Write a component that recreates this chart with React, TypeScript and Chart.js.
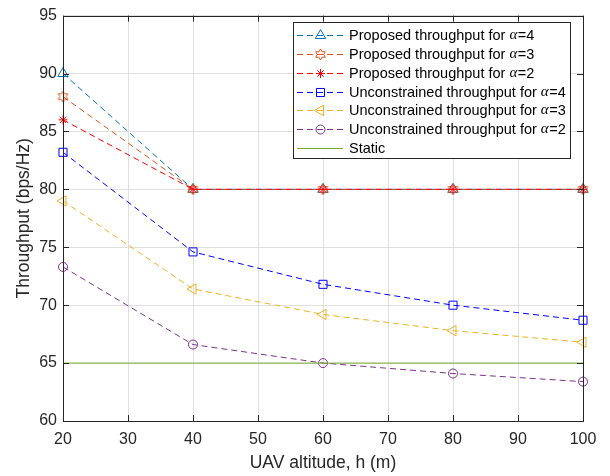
import React, { useEffect, useRef } from "react";
import { Chart, registerables } from "chart.js";
import { drawPoint } from "chart.js/helpers";

Chart.register(...registerables);

// ---- data ----
const altitudes = [20, 40, 60, 80, 100];
const proposedA4 = [90, 80, 80, 80, 80];
const proposedA3 = [88, 80, 80, 80, 80];
const proposedA2 = [86, 80, 80, 80, 80];
const unconA4 = [83.2, 74.6, 71.8, 70.0, 68.7];
const unconA3 = [79.0, 71.4, 69.2, 67.8, 66.8];
const unconA2 = [73.3, 66.6, 65.0, 64.1, 63.4];
const staticTp = [65, 65, 65, 65, 65];
const xTickValues = [20, 30, 40, 50, 60, 70, 80, 90, 100];
const yTickValues = [60, 65, 70, 75, 80, 85, 90, 95];
const legendPrefixes = [
  "Proposed throughput for ",
  "Proposed throughput for ",
  "Proposed throughput for ",
  "Unconstrained throughput for ",
  "Unconstrained throughput for ",
  "Unconstrained throughput for ",
  "Static",
];
const legendAlphas = ["4", "3", "2", "4", "3", "2", ""];

const AX = "#262626";
const FAM = '"Liberation Sans", Arial, sans-serif';

function makeHexagram(color: string, r: number): HTMLCanvasElement {
  const s = Math.ceil(r * 2 + 4);
  const c = document.createElement("canvas");
  c.width = s;
  c.height = s;
  const g = c.getContext("2d")!;
  g.strokeStyle = color;
  g.lineWidth = 1;
  const cx = s / 2;
  const cy = s / 2;
  g.beginPath();
  for (let i = 0; i < 12; i++) {
    const ang = -Math.PI / 2 + (i * Math.PI) / 6;
    const rr = i % 2 === 0 ? r : r * 0.577;
    const px = cx + Math.cos(ang) * rr;
    const py = cy + Math.sin(ang) * rr;
    if (i === 0) g.moveTo(px, py);
    else g.lineTo(px, py);
  }
  g.closePath();
  g.stroke();
  return c;
}

const boxTicksPlugin = {
  id: "boxTicks",
  afterDatasetsDraw(chart: any) {
    const { ctx, chartArea } = chart;
    const { left, right, top, bottom } = chartArea;
    const xs = chart.scales.x;
    const ys = chart.scales.y;
    const L = 6;
    ctx.save();
    ctx.strokeStyle = AX;
    ctx.lineWidth = 1;
    ctx.beginPath();
    for (const v of xTickValues) {
      const px = Math.round(xs.getPixelForValue(v)) + 0.5;
      ctx.moveTo(px, bottom);
      ctx.lineTo(px, bottom - L);
      ctx.moveTo(px, top);
      ctx.lineTo(px, top + L);
    }
    for (const v of yTickValues) {
      const py = Math.round(ys.getPixelForValue(v)) + 0.5;
      ctx.moveTo(left, py);
      ctx.lineTo(left + L, py);
      ctx.moveTo(right, py);
      ctx.lineTo(right - L, py);
    }
    ctx.stroke();
    ctx.strokeRect(Math.round(left) + 0.5, Math.round(top) + 0.5, Math.round(right - left), Math.round(bottom - top));
    ctx.restore();
  },
};

const legendPlugin = {
  id: "customLegend",
  afterDraw(chart: any) {
    const { ctx } = chart;
    const bx = 293.5, by = 22.5, bw = 277, bh = 136;
    ctx.save();
    ctx.fillStyle = "#ffffff";
    ctx.fillRect(bx, by, bw, bh);
    ctx.strokeStyle = AX;
    ctx.lineWidth = 1;
    ctx.strokeRect(bx, by, bw, bh);
    const y0 = 35;
    const dy = 18.85;
    chart.data.datasets.forEach((ds: any, i: number) => {
      const y = Math.round(y0 + dy * i) + 0.5;
      ctx.save();
      ctx.strokeStyle = ds.borderColor;
      ctx.lineWidth = 1;
      ctx.setLineDash(ds.borderDash || []);
      ctx.beginPath();
      ctx.moveTo(297, y);
      ctx.lineTo(343, y);
      ctx.stroke();
      ctx.restore();
      if (ds.pointStyle && ds.pointRadius > 0) {
        if (ds.pointStyle instanceof HTMLCanvasElement) {
          const im = ds.pointStyle;
          ctx.drawImage(im, 320.5 - im.width / 2, y - im.height / 2);
        } else {
          ctx.save();
          ctx.setLineDash([]);
          ctx.strokeStyle = ds.pointBorderColor || ds.borderColor;
          ctx.fillStyle = "rgba(0,0,0,0)";
          ctx.lineWidth = 1;
          drawPoint(ctx, { pointStyle: ds.pointStyle, radius: ds.pointRadius, rotation: ds.pointRotation || 0, borderWidth: 1 }, 320.5, y);
          ctx.restore();
        }
      }
      ctx.fillStyle = "#000000";
      ctx.textBaseline = "middle";
      ctx.textAlign = "left";
      ctx.font = "14.5px " + FAM;
      let tx = 349;
      const pre = legendPrefixes[i];
      ctx.fillText(pre, tx, y);
      tx += ctx.measureText(pre).width;
      if (legendAlphas[i]) {
        ctx.font = 'italic 15px "Liberation Serif", serif';
        ctx.fillText("\u03B1", tx, y);
        tx += ctx.measureText("\u03B1").width + 0.5;
        ctx.font = "14.5px " + FAM;
        ctx.fillText("=" + legendAlphas[i], tx, y);
      }
    });
    ctx.restore();
  },
};

export default function App() {
  const ref = useRef<HTMLCanvasElement | null>(null);
  useEffect(() => {
    document.body.style.margin = "0";
    const hex = makeHexagram("#D95319", 5.5);
    const mk = (
      label: string,
      data: number[],
      color: string,
      pointStyle: any,
      radius: number,
      dashed: boolean,
      order: number,
      rotation = 0
    ) => ({
      label,
      data: data.map((v, i) => ({ x: altitudes[i], y: v })),
      borderColor: color,
      backgroundColor: "rgba(0,0,0,0)",
      pointBorderColor: color,
      pointBackgroundColor: "rgba(0,0,0,0)",
      pointStyle,
      pointRadius: radius,
      pointRotation: rotation,
      pointBorderWidth: 1,
      borderWidth: 1,
      borderDash: dashed ? [6, 4] : [],
      tension: 0,
      fill: false,
      order,
      clip: false as any,
    });
    const datasets = [
      mk("Proposed throughput for α=4", proposedA4, "#0072BD", "triangle", 6, true, 7),
      mk("Proposed throughput for α=3", proposedA3, "#D95319", hex, 5.5, true, 6),
      mk("Proposed throughput for α=2", proposedA2, "#FF0000", "star", 4.5, true, 5),
      mk("Unconstrained throughput for α=4", unconA4, "#0000FF", "rect", 5.7, true, 4),
      mk("Unconstrained throughput for α=3", unconA3, "#EDB120", "triangle", 6, true, 3, -90),
      mk("Unconstrained throughput for α=2", unconA2, "#7E2F8E", "circle", 4.5, true, 2),
      mk("Static", staticTp, "#77AC30", false, 0, false, 1),
    ];
    const chart = new Chart(ref.current!, {
      type: "line",
      data: { datasets: datasets as any },
      options: {
        animation: false,
        responsive: false,
        maintainAspectRatio: false,
        layout: { padding: { left: 10, top: 9, right: 27, bottom: 0 } },
        plugins: { legend: { display: false }, tooltip: { enabled: false } },
        scales: {
          x: {
            type: "linear",
            min: 20,
            max: 100,
            afterBuildTicks: (s: any) => {
              s.ticks = xTickValues.map((v) => ({ value: v }));
            },
            afterFit: (s: any) => {
              s.height = 55;
            },
            ticks: { color: AX, font: { size: 16, family: FAM }, padding: 9, maxRotation: 0 },
            grid: { color: "#dfdfdf", drawTicks: false },
            border: { display: false },
            title: {
              display: true,
              text: "UAV altitude, h (m)",
              color: AX,
              font: { size: 17.5, family: FAM },
              padding: { top: 2, bottom: 2 },
            },
          },
          y: {
            min: 60,
            max: 95,
            afterBuildTicks: (s: any) => {
              s.ticks = yTickValues.map((v) => ({ value: v }));
            },
            afterFit: (s: any) => {
              s.width = 53;
            },
            ticks: { color: AX, font: { size: 16, family: FAM }, padding: 6 },
            grid: { color: "#dfdfdf", drawTicks: false },
            border: { display: false },
            title: {
              display: true,
              text: "Throughput (bps/Hz)",
              color: AX,
              font: { size: 17.5, family: FAM },
              padding: { top: 4, bottom: 2 },
            },
          },
        },
      },
      plugins: [boxTicksPlugin, legendPlugin],
    });
    return () => chart.destroy();
  }, []);
  return (
    <div style={{ position: "absolute", left: 0, top: 0, width: 610, height: 476, background: "#fff" }}>
      <canvas ref={ref} width={610} height={476} style={{ width: 610, height: 476 }} />
    </div>
  );
}
